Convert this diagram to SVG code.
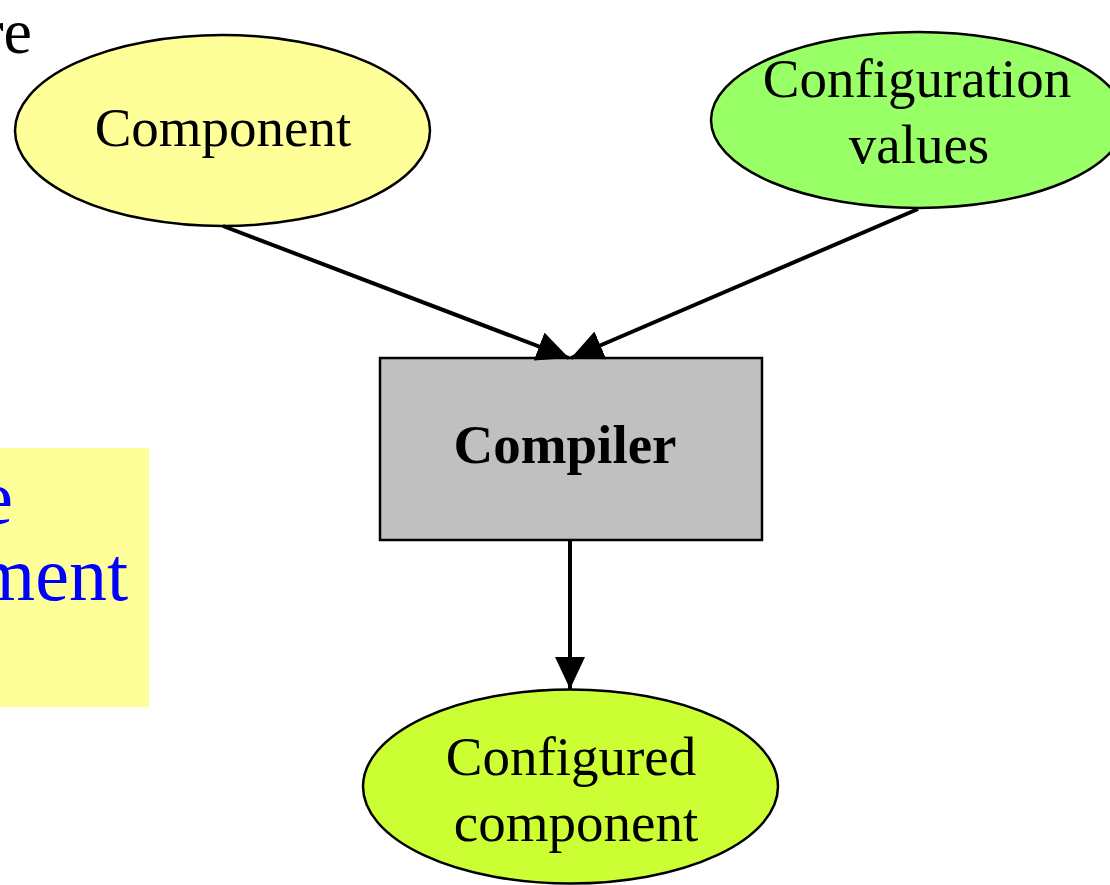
<svg xmlns="http://www.w3.org/2000/svg" width="1110" height="885" viewBox="0 0 1110 885">
<style>
.node{stroke:#000;stroke-width:2.5}
.t{font-family:"Liberation Serif","Times New Roman",serif;font-size:55px;fill:#000;text-anchor:middle}
.b{font-weight:bold}
.blue{font-family:"Liberation Serif","Times New Roman",serif;font-size:76px;fill:#0000ff;text-anchor:end}
.edge{stroke:#000;stroke-width:4;fill:none}
</style>
<defs>
<marker id="ah" markerUnits="userSpaceOnUse" markerWidth="34" markerHeight="34" refX="32" refY="15" orient="auto">
<path d="M0,0 L32,15 L0,30 Z" fill="#000"/>
</marker>
</defs>
<rect width="1110" height="885" fill="#fff"/>
<text x="32" y="53" class="t" style="font-size:64px;text-anchor:end">re</text>
<g id="note">
<rect x="0" y="448" width="149" height="259" fill="#ffff99"/>
<text x="13" y="523" class="blue">e</text>
<text x="128" y="600" class="blue">ment</text>
</g>
<g id="component">
<ellipse cx="222.5" cy="130.5" rx="207.5" ry="95.5" fill="#ffff99" class="node"/>
<text x="223" y="146" class="t">Component</text>
</g>
<g id="config-values">
<ellipse cx="918" cy="120" rx="207" ry="88" fill="#99ff66" class="node"/>
<text x="917" y="97" class="t">Configuration</text>
<text x="919" y="163" class="t">values</text>
</g>
<g id="compiler">
<rect x="380" y="358" width="382" height="182" fill="#c0c0c0" class="node"/>
<text x="565" y="463" class="t b">Compiler</text>
</g>
<g id="configured">
<ellipse cx="570.5" cy="786.5" rx="207.5" ry="97" fill="#ccff33" class="node"/>
<text x="571" y="775" class="t">Configured</text>
<text x="576" y="841" class="t">component</text>
</g>
<g id="connectors">
<line x1="223" y1="226" x2="569" y2="358" class="edge" marker-end="url(#ah)"/>
<line x1="918" y1="209" x2="571" y2="358" class="edge" marker-end="url(#ah)"/>
<line x1="570" y1="541" x2="570" y2="689" class="edge" marker-end="url(#ah)"/>
</g>
</svg>
